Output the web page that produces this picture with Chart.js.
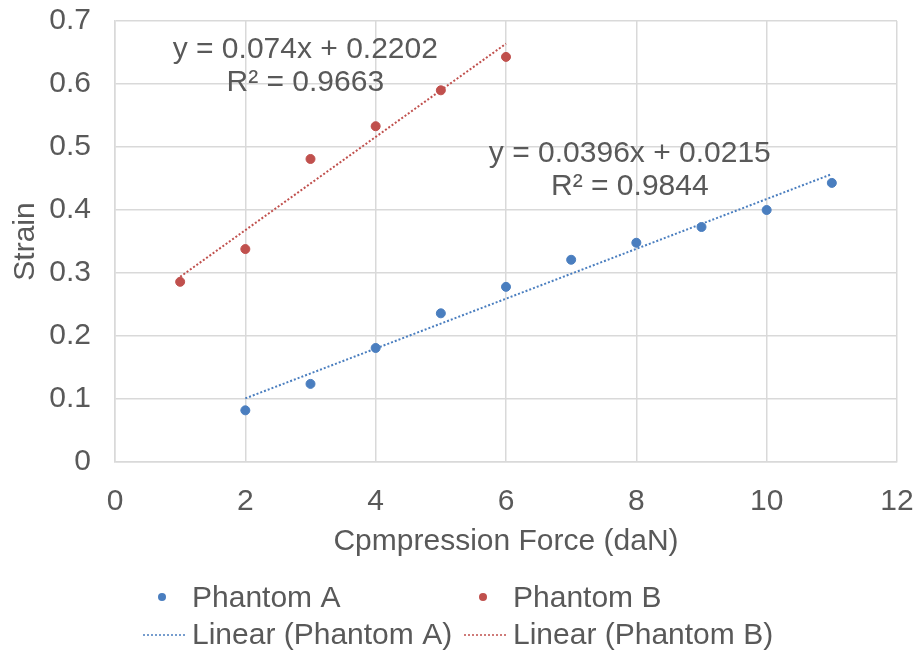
<!DOCTYPE html>
<html>
<head>
<meta charset="utf-8">
<script src="https://cdn.jsdelivr.net/npm/chart.js@4"></script>
<style>
  html, body { margin: 0; padding: 0; background: #fff; }
  #wrap { width: 917px; height: 661px; }
</style>
</head>
<body>
<div id="wrap"><canvas id="chart" width="917" height="661"></canvas></div>
<script>
// Phantom A
const forceA = [2, 3, 4, 5, 6, 7, 8, 9, 10, 11];
const strainA = [0.082, 0.124, 0.181, 0.236, 0.278, 0.321, 0.348, 0.373, 0.400, 0.443];
// Phantom B
const forceB = [1, 2, 3, 4, 5, 6];
const strainB = [0.286, 0.338, 0.481, 0.533, 0.590, 0.643];

// trendline end points
const trendAx = [2, 11];
const trendAy = [0.101, 0.457];
const trendBx = [1, 6];
const trendBy = [0.294, 0.664];

const eqA = ['y = 0.0396x + 0.0215', 'R² = 0.9844'];
const eqB = ['y = 0.074x + 0.2202', 'R² = 0.9663'];
const eqPosA = [7.9, 0.49];
const eqPosB = [2.92, 0.654];

const xTicks = [0, 2, 4, 6, 8, 10, 12];
const yTicks = [0, 0.1, 0.2, 0.3, 0.4, 0.5, 0.6, 0.7];

const BLUE = '#4a7ebf';
const RED = '#c0504d';
const TXT = '#595959';
const GRID = '#d9d9d9';
const FONT = "'Liberation Sans', Arial, sans-serif";
const FS = 30;

const pts = (xs, ys) => xs.map((x, i) => ({ x: x, y: ys[i] }));

// equation labels on the plot
const eqLabels = {
  id: 'eqLabels',
  afterDatasetsDraw(chart) {
    const { ctx, scales } = chart;
    ctx.save();
    ctx.fillStyle = TXT;
    ctx.font = FS + 'px ' + FONT;
    ctx.textAlign = 'center';
    ctx.textBaseline = 'middle';
    [[eqA, eqPosA], [eqB, eqPosB]].forEach(([lines, pos]) => {
      const px = scales.x.getPixelForValue(pos[0]);
      const py = scales.y.getPixelForValue(pos[1]);
      ctx.fillText(lines[0], px, py);
      ctx.fillText(lines[1], px, py + 33);
    });
    ctx.restore();
  },
};

// Excel style legend: 2 columns x 2 rows
const legendGrid = {
  id: 'legendGrid',
  afterDraw(chart) {
    const ctx = chart.ctx;
    ctx.save();
    ctx.font = FS + 'px ' + FONT;
    ctx.textBaseline = 'middle';
    ctx.textAlign = 'left';
    const rows = [
      [{ type: 'pt', c: BLUE, t: 'Phantom A', x: 192 }, { type: 'pt', c: RED, t: 'Phantom B', x: 513 }],
      [{ type: 'ln', c: BLUE, t: 'Linear (Phantom A)', x: 192 }, { type: 'ln', c: RED, t: 'Linear (Phantom B)', x: 513 }],
    ];
    const ys = [599, 636];
    rows.forEach((row, r) => {
      row.forEach((it) => {
        const y = ys[r];
        if (it.type === 'pt') {
          ctx.fillStyle = it.c;
          ctx.beginPath();
          ctx.arc(it.x - 30, y - 2, 4, 0, Math.PI * 2);
          ctx.fill();
        } else {
          ctx.strokeStyle = it.c;
          ctx.lineWidth = 1.5;
          ctx.setLineDash([2, 2]);
          ctx.beginPath();
          ctx.moveTo(it.x - 49, y - 1);
          ctx.lineTo(it.x - 7, y - 1);
          ctx.stroke();
          ctx.setLineDash([]);
        }
        ctx.fillStyle = TXT;
        ctx.fillText(it.t, it.x, y);
      });
    });
    ctx.restore();
  },
};

new Chart(document.getElementById('chart'), {
  type: 'scatter',
  data: {
    datasets: [
      { label: 'Phantom A', data: pts(forceA, strainA), backgroundColor: BLUE, borderColor: BLUE, pointRadius: 4.5, pointHoverRadius: 4.5 },
      { label: 'Phantom B', data: pts(forceB, strainB), backgroundColor: RED, borderColor: RED, pointRadius: 4.5, pointHoverRadius: 4.5 },
      { label: 'Linear (Phantom A)', data: pts(trendAx, trendAy), showLine: true, borderColor: BLUE, borderWidth: 2, borderDash: [2, 2], pointRadius: 0 },
      { label: 'Linear (Phantom B)', data: pts(trendBx, trendBy), showLine: true, borderColor: RED, borderWidth: 2, borderDash: [2, 2], pointRadius: 0 },
    ],
  },
  options: {
    responsive: false,
    animation: false,
    devicePixelRatio: 1,
    layout: { padding: { left: 8, right: 20, top: 21, bottom: 97 } },
    plugins: { legend: { display: false }, tooltip: { enabled: false } },
    scales: {
      x: {
        type: 'linear',
        min: 0,
        max: 12,
        afterBuildTicks: (s) => { s.ticks = xTicks.map((v) => ({ value: v })); },
        afterFit: (s) => { s.height = 102; s.paddingLeft = 0; s.paddingRight = 0; },
        grid: { color: GRID, lineWidth: 1.5, drawTicks: false },
        border: { color: GRID, width: 1.5 },
        ticks: { color: TXT, font: { size: FS, family: FONT }, padding: 22, maxRotation: 0 },
        title: { display: true, text: 'Cpmpression Force (daN)', color: TXT, font: { size: FS, family: FONT }, padding: { top: 14 } },
      },
      y: {
        type: 'linear',
        min: 0,
        max: 0.7,
        afterBuildTicks: (s) => { s.ticks = yTicks.map((v) => ({ value: v })); },
        afterFit: (s) => { s.width = 107; s.paddingTop = 0; s.paddingBottom = 0; },
        grid: { color: GRID, lineWidth: 1.5, drawTicks: false },
        border: { color: GRID, width: 1.5 },
        ticks: { color: TXT, font: { size: FS, family: FONT }, padding: 24, callback: (v) => (v === 0 ? '0' : v.toFixed(1)) },
        title: { display: true, text: 'Strain', color: TXT, font: { size: FS, family: FONT }, padding: 0 },
      },
    },
  },
  plugins: [eqLabels, legendGrid],
});
</script>
</body>
</html>
